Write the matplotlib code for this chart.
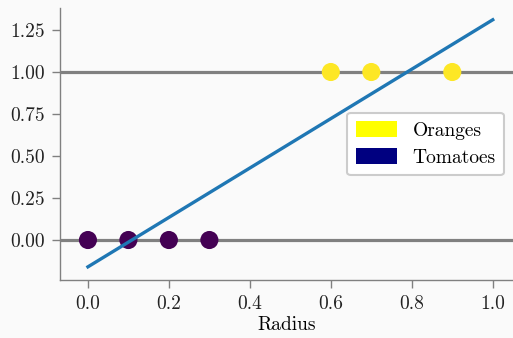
import numpy as np
import matplotlib
matplotlib.use("Agg")
import matplotlib.pyplot as plt
from matplotlib.patches import Patch

plt.rcParams['font.family'] = ['cmr10', 'DejaVu Serif']
plt.rcParams['axes.formatter.use_mathtext'] = True
plt.rcParams['mathtext.fontset'] = 'cm'

tomato_radius = [0.0, 0.1, 0.2, 0.3]
tomato_label = [0, 0, 0, 0]
orange_radius = [0.6, 0.7, 0.9]
orange_label = [1, 1, 1]
legend_names = ["Oranges", "Tomatoes"]
xticks = [0.0, 0.2, 0.4, 0.6, 0.8, 1.0]
yticks = [0.0, 0.25, 0.5, 0.75, 1.0, 1.25]

bg = "#fafafa"
fig = plt.figure(figsize=(5.13, 3.38), dpi=100, facecolor=bg)
ax = fig.add_axes([60/513, (338-280)/338, 453/513, 272/338], facecolor=bg)

x_all = np.array(tomato_radius + orange_radius)
y_all = np.array(tomato_label + orange_label)
slope, intercept = np.polyfit(x_all, y_all, 1)

ax.axhline(0, color="#808080", lw=2.3, zorder=1)
ax.axhline(1, color="#808080", lw=2.3, zorder=1)
ax.scatter(x_all, y_all, c=y_all, cmap="viridis", s=170, zorder=3, linewidths=0)
xs = np.array([0.0, 1.0])
ax.plot(xs, slope * xs + intercept, color="#1f77b4", lw=2.4, zorder=4)

ax.set_xlim(-0.069, 1.05)
ax.set_ylim(-0.238, 1.381)
ax.set_xticks(xticks)
ax.set_yticks(yticks)
ax.set_xticklabels([f"{t:.1f}" for t in xticks])
ax.set_yticklabels([f"{t:.2f}" for t in yticks])
ax.set_xlabel("Radius", fontsize=14, labelpad=2)

for side in ["top", "right"]:
    ax.spines[side].set_visible(False)
for side in ["left", "bottom"]:
    ax.spines[side].set_color("#808080")
    ax.spines[side].set_linewidth(1.0)
ax.tick_params(colors="#808080", labelcolor="#222222", labelsize=14, length=6, width=1, pad=5)

handles = [Patch(facecolor="#ffff00", edgecolor="none"), Patch(facecolor="#000080", edgecolor="none")]
leg = ax.legend(handles, legend_names, loc="center right", fontsize=14, framealpha=1,
                facecolor="white", edgecolor="#cccccc", handlelength=2.1, handleheight=0.9,
                borderaxespad=0.45, labelspacing=0.4, borderpad=0.45, handletextpad=0.8)
leg.get_frame().set_linewidth(1.5)

fig.savefig("out.png", dpi=100, facecolor=bg)
